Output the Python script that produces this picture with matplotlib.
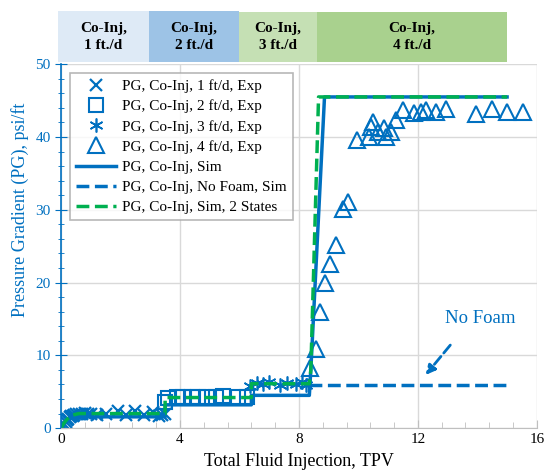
import numpy as np
import matplotlib.pyplot as plt
from matplotlib.patches import Rectangle
from matplotlib.transforms import blended_transform_factory

plt.rcParams['font.family'] = ['Liberation Serif', 'DejaVu Serif']

blue = '#0070C0'
green = '#00B050'

# experimental data, 1 ft/d
x1 = [0.0, 0.05, 0.1, 0.15, 0.2, 0.25, 0.3, 0.35, 0.4, 0.45, 0.5, 0.6, 0.7, 0.8, 0.9, 1.0,
      1.2, 1.5, 1.9, 2.2, 2.5, 2.8, 3.1, 3.3, 3.4, 3.5]
y1 = [0.0, 0.3, 0.6, 0.9, 1.1, 1.3, 1.5, 1.6, 1.7, 1.8, 1.9, 2.0, 2.0, 2.1, 2.0, 2.0,
      1.8, 1.9, 2.4, 1.8, 2.3, 1.8, 2.2, 1.7, 1.8, 2.0]
# 2 ft/d
x2 = [3.5, 3.6, 3.9, 4.1, 4.4, 4.6, 4.9, 5.2, 5.45, 5.95, 6.25]
y2 = [3.6, 4.2, 4.3, 4.3, 4.3, 4.3, 4.3, 4.3, 4.4, 4.3, 4.3]
# 3 ft/d
x3 = [6.35, 6.6, 6.8, 7.0, 7.35, 7.6, 7.9, 8.1, 8.25]
y3 = [5.8, 6.2, 6.0, 6.3, 5.9, 6.2, 6.1, 6.3, 5.9]
# 4 ft/d
x4 = [8.36, 8.56, 8.71, 8.89, 9.05, 9.25, 9.47, 9.64, 9.95, 10.37, 10.42, 10.48, 10.65,
      10.87, 10.93, 11.1, 11.26, 11.49, 11.88, 12.1, 12.27, 12.6, 12.94, 13.95, 14.49,
      15.0, 15.54]
y4 = [8.2, 10.9, 16.0, 19.9, 22.5, 25.2, 30.1, 31.0, 39.6, 40.0, 41.4, 42.1, 40.7,
      41.2, 40.0, 40.7, 42.3, 43.7, 43.3, 43.5, 43.7, 43.5, 43.9, 43.2, 43.8,
      43.5, 43.5]

# simulation
xs = [0.0, 0.1, 0.2, 0.3, 0.4, 0.5, 3.5, 3.5, 6.4, 6.4, 8.35, 8.4, 8.86, 15.0]
ys = [0.0, 0.6, 1.0, 1.3, 1.5, 1.55, 1.55, 3.2, 3.2, 4.5, 4.5, 8.0, 45.5, 45.5]
# no foam
xnf = [8.35, 15.0]
ynf = [5.9, 5.9]
# two states
xg = [0.0, 0.1, 0.2, 0.3, 0.4, 0.6, 3.5, 3.5, 6.4, 6.4, 8.35, 8.4, 8.66, 15.0]
yg = [0.0, 0.7, 1.2, 1.6, 1.8, 2.0, 2.0, 4.2, 4.2, 6.1, 6.1, 8.0, 45.5, 45.5]

stages = ['Co-Inj,\n1 ft./d', 'Co-Inj,\n2 ft./d', 'Co-Inj,\n3 ft./d', 'Co-Inj,\n4 ft./d']
stage_edges = [-0.1, 2.95, 6.0, 8.6, 15.0]
stage_colors = ['#DEEAF6', '#9DC3E6', '#C5E0B4', '#A9D18E']

fig = plt.figure(figsize=(5.45, 4.72), dpi=100)
ax = fig.add_axes([0.112, 0.093, 0.873, 0.771])

ax.plot(x1, y1, 'x', color=blue, ms=9, mew=1.6, label='PG, Co-Inj, 1 ft/d, Exp')
ax.plot(x2, y2, 's', color=blue, ms=10, mfc='none', mew=1.5, label='PG, Co-Inj, 2 ft/d, Exp')
ax.plot(x3, y3, marker=(6, 2, 0), ls='none', color=blue, ms=10, mew=1.2, label='PG, Co-Inj, 3 ft/d, Exp')
ax.plot(x4, y4, '^', color=blue, ms=11, mfc='none', mew=1.5, label='PG, Co-Inj, 4 ft/d, Exp')
ax.plot(xs, ys, '-', color=blue, lw=2.5, label='PG, Co-Inj, Sim')
ax.plot(xnf, ynf, '--', color=blue, lw=2.5, label='PG, Co-Inj, No Foam, Sim')
ax.plot(xg, yg, '--', color=green, lw=2.5, label='PG, Co-Inj, Sim, 2 States')

ax.set_xlim(0, 16)
ax.set_ylim(0, 50)
ax.set_xticks([0, 4, 8, 12, 16])
ax.set_xticks(np.arange(0, 16.01, 0.8), minor=True)
ax.set_yticks([0, 10, 20, 30, 40, 50])
ax.set_yticks(np.arange(0, 50.1, 2), minor=True)
ax.grid(True, which='major', color='#D9D9D9', lw=1)
ax.set_axisbelow(True)

for s in ['top', 'right']:
    ax.spines[s].set_visible(False)
ax.spines['left'].set_color(blue)
ax.spines['left'].set_linewidth(1.2)
ax.spines['bottom'].set_color('#BFBFBF')
ax.tick_params(axis='y', which='both', colors=blue, direction='inout', labelsize=11)
ax.tick_params(axis='y', which='major', length=8)
ax.tick_params(axis='y', which='minor', length=4)
ax.tick_params(axis='x', which='both', color='#BFBFBF', labelcolor='black', direction='in', labelsize=11)
ax.tick_params(axis='x', which='major', length=6)
ax.tick_params(axis='x', which='minor', length=4)

ax.set_xlabel('Total Fluid Injection, TPV', fontsize=13, labelpad=5)
ax.set_ylabel('Pressure Gradient (PG), psi/ft', fontsize=13, color=blue)
ax.yaxis.set_label_coords(-0.067, 0.6)

leg = ax.legend(loc='upper left', bbox_to_anchor=(0.019, 0.975), borderaxespad=0, fontsize=11,
                frameon=True, fancybox=False, edgecolor='#A6A6A6', handlelength=2.6,
                labelspacing=0.42, borderpad=0.4, handletextpad=0.4)
leg.get_frame().set_linewidth(1.2)

ax.text(14.1, 15.1, 'No Foam', color=blue, fontsize=13.5, ha='center', va='center')
ax.annotate('', xy=(12.2, 7.0), xytext=(13.15, 11.7),
            arrowprops=dict(arrowstyle='-|>', color=blue, lw=2, ls='--', mutation_scale=14))

trans = blended_transform_factory(ax.transData, fig.transFigure)
for i in range(len(stages)):
    x0 = stage_edges[i]
    w = stage_edges[i + 1] - x0
    top = 0.977 if i < 2 else 0.975
    ax.add_patch(Rectangle((x0, 0.869), w, top - 0.869, transform=trans,
                           facecolor=stage_colors[i], edgecolor='none', clip_on=False))
    ax.text(x0 + w / 2, 0.922, stages[i], transform=trans, ha='center', va='center',
            fontsize=11, fontweight='bold', linespacing=1.4)

fig.savefig('out.png', dpi=100)
